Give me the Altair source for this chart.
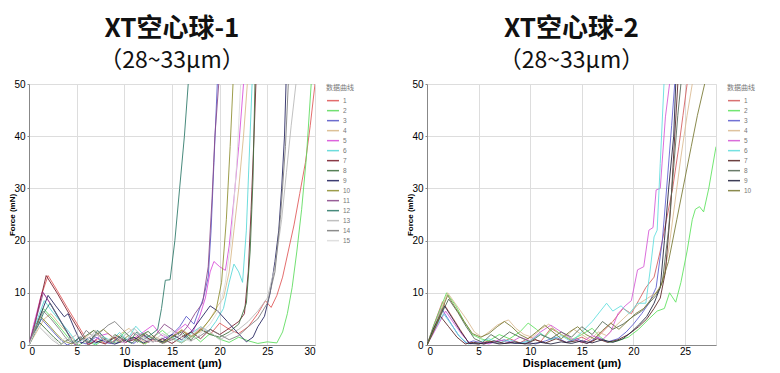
import altair as alt
import pandas as pd

# ---------------- Left panel: XT空心球-1 (15 curves) ----------------
L_names = [str(i) for i in range(1, 16)]
L_colors = ["#e05a5a", "#5fdc5f", "#5a5ac8", "#d9b98a", "#d94fd9", "#5ad8d8", "#7a1f2e",
            "#3f6f3f", "#23235f", "#8f8f33", "#8a4a8a", "#2f7a6a", "#b8b8b8", "#7d7d7d", "#dcdcdc"]

L1_x = [0, 0.5, 1.2, 2.0, 3.0, 4.0, 5.0, 6.3, 7.2, 8.0, 9.0, 10.2, 11.0, 12.0, 13.0, 14.2, 15.0, 16.0, 17.0, 18.0, 19.0, 20.0, 21.0, 22.0, 23.0, 24.0, 24.8, 25.4, 26.0, 26.6, 27.2, 27.8, 28.4, 29.0, 29.5, 30.0]
L1_y = [0, 3, 9, 13.3, 10.3, 7.2, 4.2, 0.2, 1.2, 0.3, 1.8, 0.6, 1.5, 0.2, 1.0, 0.4, 1.6, 2.8, 1.5, 3.2, 2.0, 4.2, 3.0, 2.2, 3.5, 6.0, 8.5, 7.2, 9.5, 13, 18, 23, 29, 35, 42, 50]
L2_x = [0, 0.6, 1.5, 2.5, 3.5, 4.3, 5.2, 6.0, 7.0, 8.0, 9.2, 10.0, 11.0, 12.2, 13.0, 14.0, 15.0, 16.0, 17.2, 18.0, 19.0, 20.2, 21.0, 22.0, 23.0, 24.0, 25.0, 26.0, 26.6, 27.1, 27.6, 28.1, 28.6, 29.1, 29.6]
L2_y = [0, 3, 7, 5, 2.8, 1, 0, 0.8, 0, 1.2, 0.3, 2.5, 1.0, 0.2, 1.5, 2.8, 1.2, 0.4, 1.8, 0.6, 2.2, 1.0, 0.5, 1.5, 0.8, 0.3, 0.6, 0.4, 2.5, 6, 11, 18, 26, 36, 50]
L3_x = [0, 0.5, 1.3, 2.2, 3.2, 4.0, 5.0, 6.0, 7.0, 8.2, 9.0, 10.0, 11.0, 12.0, 13.0, 14.0, 15.0, 15.8, 16.5, 17.3, 17.8, 18.3, 18.8, 19.1, 19.4, 19.75]
L3_y = [0, 2, 5, 3.2, 1.2, 0, 0.8, 0.2, 1.5, 0.4, 0.2, 1.0, 0.3, 1.8, 0.6, 1.2, 2.0, 3.5, 5.5, 4.0, 6.5, 9, 13, 22, 35, 50]
L4_x = [0, 0.8, 1.6, 2.3, 3.2, 4.2, 5.0, 6.0, 6.8, 7.8, 8.6, 9.5, 10.5, 11.3, 12.2, 13.0, 14.0, 15.0, 16.0, 17.0, 18.0, 19.0, 19.8, 20.4, 21.0, 21.5, 22.0, 22.5, 22.9]
L4_y = [0, 2.5, 5, 6, 4, 2, 0.3, 1.5, 2.8, 1.2, 0.4, 2.0, 3.2, 1.5, 0.5, 1.8, 0.8, 1.2, 3.0, 1.8, 2.5, 5.0, 7.5, 9.0, 14, 22, 30, 40, 50]
L5_x = [0, 0.5, 1.4, 2.2, 3.0, 4.0, 4.8, 5.6, 6.5, 7.5, 8.3, 9.2, 10.0, 11.0, 12.0, 13.0, 13.8, 14.8, 15.6, 16.4, 17.2, 17.9, 18.5, 19.0, 19.4, 20.0, 20.6, 21.0, 21.5, 22.0, 22.5]
L5_y = [0, 4, 10.3, 8, 5.5, 2.5, 0, 1.2, 0.3, 1.8, 2.2, 1.0, 0.4, 1.2, 2.5, 3.8, 2.0, 1.0, 2.8, 4.0, 2.5, 5.5, 9, 14, 16, 15, 14.3, 19, 28, 38, 50]
L6_x = [0, 0.6, 1.6, 2.4, 3.3, 4.2, 5.0, 6.0, 7.0, 7.8, 8.6, 9.5, 10.3, 11.2, 12.0, 13.0, 14.0, 15.0, 16.0, 17.0, 18.0, 18.8, 19.6, 20.4, 21.0, 21.5, 22.0, 22.4, 22.8, 23.1, 23.4]
L6_y = [0, 3.5, 8.5, 6.5, 4.5, 2.5, 0.5, 1.2, 0.2, 1.6, 0.8, 2.4, 1.0, 3.6, 2.0, 1.2, 0.4, 1.5, 0.6, 2.2, 3.5, 2.5, 4.5, 7, 12, 15.5, 14, 12, 22, 36, 50]
L7_x = [0, 0.6, 1.8, 3.0, 4.2, 5.2, 6.2, 7.0, 8.0, 9.0, 10.0, 11.0, 12.0, 13.0, 14.0, 15.0, 16.0, 17.0, 18.0, 19.0, 20.0, 21.0, 22.0, 22.6, 23.0, 23.3, 23.6, 23.8]
L7_y = [0, 4, 13.3, 9.8, 6.0, 3.0, 0, 0.8, 0.2, 1.5, 0.5, 1.0, 2.0, 0.6, 1.2, 0.3, 1.5, 2.5, 1.2, 3.0, 2.0, 3.2, 4.5, 6, 14, 26, 40, 50]
L8_x = [0, 0.5, 1.0, 1.8, 2.6, 3.4, 4.2, 5.0, 6.0, 6.8, 7.5, 8.3, 9.0, 10.0, 10.8, 11.6, 12.5, 13.3, 14.2, 15.0, 16.0, 17.0, 18.0, 19.0, 20.0, 21.0, 22.0, 22.8, 23.2, 23.5, 23.7]
L8_y = [0, 2, 4.5, 3, 1.5, 0.2, 1.2, 0.4, 1.8, 2.8, 1.5, 0.6, 2.0, 1.0, 0.3, 1.8, 2.6, 1.2, 0.5, 1.5, 2.5, 1.0, 3.0, 2.0, 1.5, 2.5, 4.0, 8, 18, 32, 50]
L9_x = [0, 0.6, 2.0, 2.8, 3.7, 4.1, 4.8, 5.5, 6.3, 7.0, 8.0, 9.0, 10.0, 11.0, 12.0, 13.0, 14.0, 15.0, 16.0, 17.0, 18.0, 19.0, 19.8, 20.8, 21.8, 22.8, 23.5, 24.0, 24.7, 25.3, 25.8, 26.2, 26.5, 26.8, 26.96]
L9_y = [0, 3, 9.5, 7.5, 5.4, 6, 3, 0.3, 1.5, 0.4, 1.2, 0.2, 0.8, 1.5, 0.4, 1.2, 0.6, 2.0, 1.0, 2.5, 5, 7.5, 6.5, 4.5, 2.5, 0.6, 1.5, 3.5, 5.5, 10, 16, 22, 30, 40, 50]
L10_x = [0, 0.5, 1.2, 2.0, 2.8, 3.6, 4.5, 5.3, 6.2, 7.0, 7.8, 8.8, 9.6, 10.4, 11.3, 12.2, 13.0, 14.0, 15.0, 16.0, 17.0, 18.0, 18.8, 19.6, 20.2, 20.7, 21.1, 21.4]
L10_y = [0, 2.5, 5.5, 4, 2.3, 0.8, 0.2, 1.4, 0.5, 2.0, 3.0, 1.4, 0.5, 1.8, 0.8, 2.2, 1.2, 0.4, 1.6, 2.8, 1.6, 2.8, 4.5, 6.5, 12, 24, 38, 50]
L11_x = [0, 0.6, 1.5, 2.4, 3.2, 4.0, 4.6, 5.4, 6.2, 7.0, 7.8, 8.6, 9.4, 10.2, 11.0, 11.8, 12.6, 13.4, 14.2, 15.0, 15.8, 16.6, 17.4, 18.2, 18.8, 19.2, 19.5, 19.9]
L11_y = [0, 4, 10, 7.5, 5, 2.5, 0.5, 1.5, 0.3, 2.2, 1.0, 0.3, 1.5, 0.6, 2.4, 1.2, 0.5, 2.2, 4.0, 3.0, 1.8, 3.5, 6, 8, 15, 28, 40, 50]
L12_x = [0, 0.8, 1.5, 2.2, 3.0, 3.8, 4.6, 5.4, 6.3, 7.2, 8.0, 8.8, 9.6, 10.5, 11.3, 12.0, 12.8, 13.5, 13.9, 14.3, 14.8, 15.3, 15.8, 16.3, 16.7]
L12_y = [0, 3, 6, 8, 5.5, 3, 0.5, 1.5, 0.4, 2.8, 1.2, 0.3, 1.8, 0.6, 2.5, 1.0, 2.0, 3.0, 7, 12.4, 12.5, 20, 30, 40, 50]
L13_x = [0, 0.4, 0.8, 1.6, 2.4, 3.2, 4.0, 5.0, 6.0, 7.0, 8.0, 9.0, 10.0, 11.0, 12.0, 13.0, 14.0, 15.0, 16.0, 17.0, 18.0, 19.0, 20.0, 21.0, 22.0, 23.0, 24.0, 25.0, 25.8, 26.5, 27.0, 27.5, 28.0]
L13_y = [0, 2, 4, 2.5, 1, 0, 0.8, 2.0, 0.5, 2.8, 1.2, 0.3, 1.8, 3.2, 1.5, 0.6, 2.2, 1.2, 0.4, 1.6, 3.5, 2.5, 1.0, 2.0, 3.0, 4.5, 6.5, 9, 15, 24, 33, 42, 50]
L14_x = [0, 0.6, 1.5, 2.3, 3.2, 4.0, 5.0, 6.0, 6.8, 7.5, 8.3, 9.0, 9.8, 10.6, 11.4, 12.2, 13.0, 14.0, 15.0, 16.0, 17.0, 18.0, 19.0, 20.0, 21.0, 22.0, 23.0, 24.0, 25.0, 25.8, 26.4, 26.9, 27.2]
L14_y = [0, 3, 6.5, 5, 3, 1, 0, 2.8, 1.5, 2.5, 3.8, 4.5, 3.0, 1.5, 0.5, 2.2, 1.2, 0.3, 1.0, 2.0, 0.8, 1.8, 3.0, 2.0, 1.0, 1.8, 3.5, 5, 8, 14, 25, 38, 50]
L15_x = [0, 0.5, 1.0, 2.0, 3.0, 4.0, 5.0, 6.0, 7.0, 8.0, 9.0, 10.0, 11.0, 12.0, 13.0, 14.0, 15.0, 16.0, 17.0, 18.0, 19.0, 20.0, 20.6, 21.2, 21.8, 22.2]
L15_y = [0, 2, 3.5, 2, 0.5, 1.5, 0.3, 1.2, 2.2, 0.8, 1.8, 0.4, 2.5, 1.2, 0.5, 1.5, 2.8, 1.4, 0.6, 2.2, 4.0, 7, 12, 20, 35, 50]

# ---------------- Right panel: XT空心球-2 (10 curves) ----------------
R_names = [str(i) for i in range(1, 11)]
R_colors = ["#d45f5f", "#5fe35f", "#5f5fcf", "#dbbb92", "#d65ad6", "#62dede", "#5a2626",
            "#566a56", "#23233f", "#7a7a35"]

R1_x = [0, 0.6, 1.5, 2.4, 3.2, 4.0, 5.0, 6.0, 7.0, 8.0, 9.0, 10.0, 11.0, 12.0, 13.0, 14.0, 15.0, 16.0, 17.0, 18.0, 19.0, 19.8, 20.5, 21.2, 22.0, 22.6, 23.2, 23.8, 24.4, 24.8, 25.2]
R1_y = [0, 3.5, 8.3, 5.5, 3, 0.5, 0.2, 0.8, 0.3, 1.2, 0.4, 1.5, 0.6, 3.2, 2.0, 0.8, 1.5, 0.5, 2.5, 4.5, 7, 6, 8.5, 11, 13, 18, 24, 30, 38, 44, 50]
R2_x = [0, 0.7, 1.9, 2.8, 3.6, 4.4, 5.2, 6.0, 7.0, 8.0, 9.0, 9.8, 10.6, 11.4, 12.2, 13.0, 14.0, 15.0, 16.0, 16.8, 17.6, 18.5, 19.5, 20.5, 21.5, 22.3, 23.0, 23.5, 24.1, 24.6, 25.2, 25.7, 26.0, 26.4, 26.8, 27.3, 28.0]
R2_y = [0, 4, 10, 7.5, 4.5, 2, 1.2, 0.8, 2.0, 1.2, 2.5, 4.2, 3.0, 1.5, 3.2, 2.0, 1.0, 2.0, 3.2, 1.5, 0.5, 0.8, 1.5, 3, 5, 6.5, 7, 10, 8.2, 12, 18, 24, 26, 26.5, 25.5, 30, 38]
R3_x = [0, 0.6, 1.4, 2.2, 3.0, 3.8, 4.5, 5.5, 6.5, 7.5, 8.5, 9.5, 10.5, 11.5, 12.5, 13.5, 14.5, 15.5, 16.5, 17.5, 18.5, 19.3, 20.0, 20.8, 21.5, 22.2, 22.8, 23.3, 23.7, 24.0]
R3_y = [0, 3, 7, 4.5, 2, 0.3, 0.8, 0.2, 0.5, 1.0, 0.3, 0.6, 0.2, 0.8, 1.5, 0.5, 1.2, 0.3, 1.5, 0.6, 1.2, 2.5, 4, 6, 8, 11, 20, 32, 42, 50]
R4_x = [0, 0.8, 2.0, 2.9, 3.8, 4.6, 5.3, 6.0, 6.8, 7.5, 7.9, 8.6, 9.4, 10.2, 11.0, 11.8, 12.6, 13.4, 14.2, 15.0, 15.8, 16.6, 17.4, 18.2, 19.0, 19.8, 20.6, 21.4, 22.2, 22.8, 23.4, 24.0, 24.6, 25.2, 25.7]
R4_y = [0, 4, 10, 7.5, 5, 2.5, 1.5, 2.5, 3.8, 4.5, 4.8, 3.2, 2.0, 1.5, 3.0, 4.0, 2.5, 1.5, 3.0, 2.0, 1.0, 2.5, 1.8, 3.5, 5, 6.5, 8, 9, 10, 12, 18, 27, 36, 44, 50]
R5_x = [0, 0.7, 1.8, 2.6, 3.4, 4.2, 5.0, 6.0, 7.0, 8.0, 9.0, 10.0, 11.0, 12.0, 13.0, 14.0, 15.0, 16.0, 17.0, 17.8, 18.5, 19.2, 19.8, 20.4, 21.0, 21.5, 21.9, 22.2, 22.6, 23.1, 23.5]
R5_y = [0, 2.5, 6.5, 4.2, 2, 0.2, 0.6, 0.2, 1.0, 0.4, 1.5, 0.8, 2.5, 3.8, 2.5, 1.2, 0.5, 1.8, 1.0, 2.5, 6, 7.5, 8.5, 14.4, 15, 22, 22.5, 29.7, 30, 43.7, 50]
R6_x = [0, 0.6, 1.6, 2.4, 3.2, 4.0, 5.0, 6.0, 7.0, 8.0, 9.0, 10.0, 11.0, 12.0, 13.0, 14.0, 15.0, 16.0, 16.8, 17.4, 18.0, 18.8, 19.6, 20.4, 21.2, 21.6, 22.0, 22.3, 22.6, 22.96]
R6_y = [0, 2.5, 6, 3.8, 1.5, 0.2, 0.5, 1.2, 0.4, 1.0, 0.3, 0.8, 2.2, 1.0, 1.8, 0.6, 2.5, 4.5, 6.5, 8, 6.5, 7.5, 6.0, 8.0, 8, 14, 20.7, 22, 34.8, 50]
R7_x = [0, 0.5, 1.3, 2.1, 2.9, 3.7, 4.5, 5.5, 6.5, 7.5, 8.5, 9.5, 10.5, 11.5, 12.5, 13.5, 14.5, 15.5, 16.5, 17.5, 18.5, 19.5, 20.5, 21.3, 22.0, 22.6, 23.1, 23.6, 24.0, 24.3]
R7_y = [0, 2, 5.5, 3.5, 1.5, 0.2, 0.5, 0.2, 0.8, 0.3, 0.6, 0.2, 1.0, 0.4, 1.2, 0.5, 0.8, 0.3, 1.2, 0.5, 1.0, 2.0, 3.5, 5, 7, 9, 14, 26, 40, 50]
R8_x = [0, 0.8, 2.1, 3.0, 3.8, 4.6, 5.4, 6.2, 7.0, 8.0, 9.0, 10.0, 11.0, 12.0, 13.0, 14.0, 15.0, 16.0, 17.0, 18.0, 19.0, 20.0, 20.8, 21.5, 22.2, 22.8, 23.4, 23.9, 24.3, 24.6]
R8_y = [0, 3.5, 8.8, 6.2, 3.5, 1.2, 0.5, 2.0, 1.0, 2.5, 1.5, 0.6, 2.0, 1.2, 2.5, 1.5, 3.5, 2.0, 4.5, 3.0, 4.0, 5.5, 6.5, 8, 9.5, 12, 22, 34, 44, 50]
R9_x = [0, 0.6, 1.7, 2.5, 3.3, 4.1, 5.0, 6.0, 7.0, 8.0, 9.0, 10.0, 11.0, 12.0, 13.0, 14.0, 15.0, 16.0, 17.0, 18.0, 19.0, 19.8, 20.6, 21.3, 22.0, 22.6, 23.0, 23.4, 23.9, 24.1]
R9_y = [0, 3, 7.5, 5, 2.5, 0.3, 0.2, 0.6, 0.2, 0.4, 0.3, 0.2, 0.5, 0.2, 0.6, 0.3, 0.8, 0.4, 1.0, 0.5, 1.2, 2.5, 4, 5.5, 8, 11, 20, 29.7, 40, 50]
R10_x = [0, 0.8, 2.0, 2.8, 3.6, 4.4, 5.2, 6.0, 6.8, 7.5, 8.2, 9.0, 9.8, 10.6, 11.4, 12.2, 13.0, 13.8, 14.6, 15.4, 16.2, 17.0, 17.8, 18.6, 19.4, 20.2, 21.0, 21.8, 22.6, 23.4, 24.2, 25.0, 25.6, 26.2, 26.9]
R10_y = [0, 3.5, 9.5, 7, 4.5, 2.2, 1.5, 2.2, 3.5, 4.5, 3.5, 2.0, 1.2, 2.5, 3.8, 2.5, 1.2, 2.5, 3.5, 2.0, 1.2, 2.8, 4.2, 3.0, 4.5, 6, 7, 9, 11, 16, 24, 32, 38, 44, 50]

L_series = [(L1_x, L1_y), (L2_x, L2_y), (L3_x, L3_y), (L4_x, L4_y), (L5_x, L5_y),
            (L6_x, L6_y), (L7_x, L7_y), (L8_x, L8_y), (L9_x, L9_y), (L10_x, L10_y),
            (L11_x, L11_y), (L12_x, L12_y), (L13_x, L13_y), (L14_x, L14_y), (L15_x, L15_y)]
R_series = [(R1_x, R1_y), (R2_x, R2_y), (R3_x, R3_y), (R4_x, R4_y), (R5_x, R5_y),
            (R6_x, R6_y), (R7_x, R7_y), (R8_x, R8_y), (R9_x, R9_y), (R10_x, R10_y)]

y_ticks = [0, 10, 20, 30, 40, 50]
L_xticks = [0, 5, 10, 15, 20, 25, 30]
R_xticks = [0, 5, 10, 15, 20, 25]


def to_frame(names, series):
    rows = []
    for name, (xs, ys) in zip(names, series):
        for i, (x, y) in enumerate(zip(xs, ys)):
            rows.append({"s": name, "i": i, "x": x, "y": y})
    return pd.DataFrame(rows)


LABEL_FONT = "Liberation Sans"
CJK = "Noto Sans CJK SC"


def panel(df, names, colors, xmax, xticks, title, subtitle, w):
    return alt.Chart(df).mark_line(strokeWidth=1, clip=True, opacity=0.88).encode(
        x=alt.X("x:Q", scale=alt.Scale(domain=[0, xmax], nice=False, zero=True),
                axis=alt.Axis(values=xticks, title="Displacement (μm)", tickSize=0,
                              labelPadding=1, titlePadding=1)),
        y=alt.Y("y:Q", scale=alt.Scale(domain=[0, 50], nice=False),
                axis=alt.Axis(values=y_ticks, title="Force (mN)", tickSize=2,
                              labelPadding=2, titlePadding=-3, titleFontSize=8)),
        color=alt.Color("s:N", scale=alt.Scale(domain=names, range=colors),
                        legend=alt.Legend(title="数据曲线", orient="right", offset=11,
                                          symbolType="stroke", symbolSize=144,
                                          symbolStrokeWidth=1.5, labelFontSize=6.5,
                                          titleFontSize=7, titleFont=CJK, labelFont=LABEL_FONT,
                                          titleFontWeight="normal", titleColor="#777",
                                          labelColor="#777", rowPadding=0, clipHeight=9.3,
                                          padding=0, titlePadding=5, labelOffset=3)),
        order="i:Q",
        detail="s:N",
    ).properties(
        width=w, height=261,
        title=alt.TitleParams(text=title, subtitle=subtitle, anchor="middle",
                              font=CJK, fontSize=26, fontWeight="bold", color="#111",
                              subtitleFont=CJK, subtitleFontSize=23, subtitleColor="#111",
                              subtitlePadding=8, offset=6),
    )


left = panel(to_frame(L_names, L_series), L_names, L_colors, 30, L_xticks,
             "XT空心球-1", "（28~33μm）", 286)
right = panel(to_frame(R_names, R_series), R_names, R_colors, 28, R_xticks,
              "XT空心球-2", "（28~33μm）", 289)

chart = alt.hconcat(left, right, spacing=51).resolve_scale(color="independent").configure_view(
    stroke="#999", strokeWidth=1
).configure_axis(
    labelFont=LABEL_FONT, labelFontSize=9, labelFontWeight="bold", labelColor="#333",
    titleFont=LABEL_FONT, titleFontSize=8, titleFontWeight="bold", titleColor="#333",
    gridColor="#ececec", gridWidth=1, domainColor="#999", tickColor="#999",
).configure(padding={"left": 0, "top": 7, "right": 0, "bottom": 0})

chart.save("out.html", embed_options={"renderer": "svg", "actions": False})
